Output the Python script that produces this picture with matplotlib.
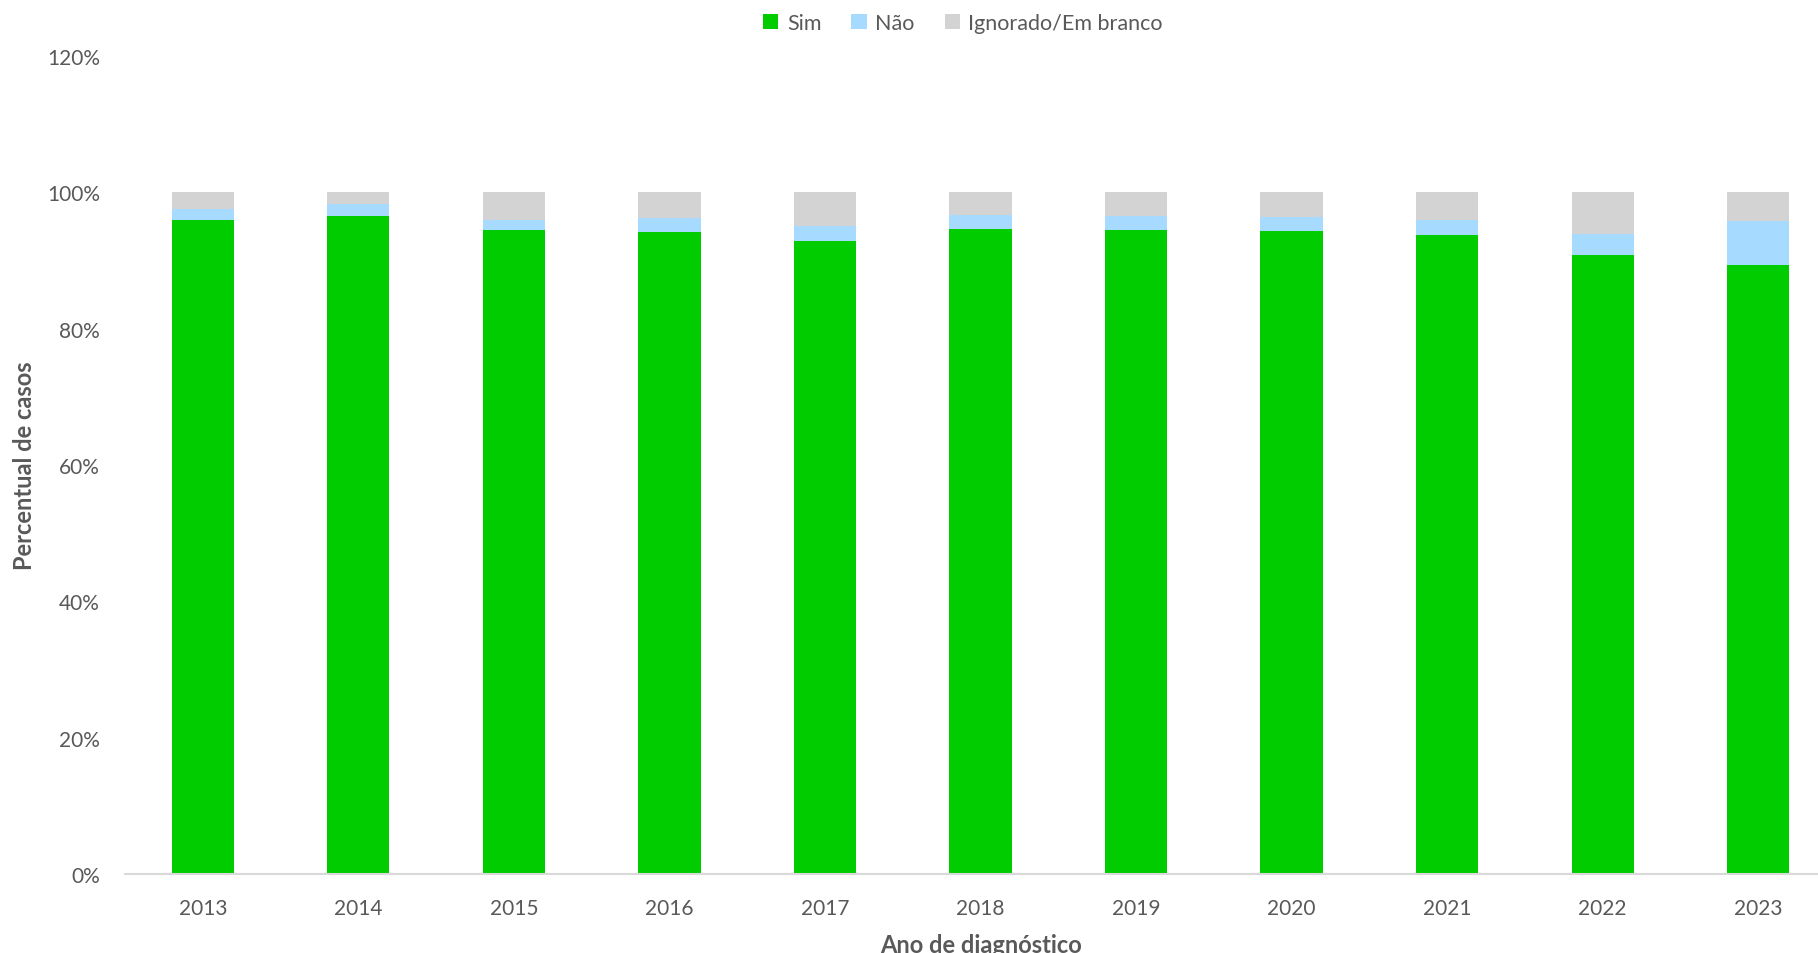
import matplotlib
matplotlib.use("Agg")
import matplotlib.pyplot as plt
from matplotlib.ticker import FuncFormatter

years = ["2013", "2014", "2015", "2016", "2017", "2018", "2019", "2020", "2021", "2022", "2023"]
sim = [95.9, 96.6, 94.5, 94.25, 92.8, 94.65, 94.5, 94.4, 93.7, 90.8, 89.4]
nao = [1.7, 1.7, 1.4, 2.05, 2.2, 2.0, 2.0, 1.95, 2.2, 3.1, 6.35]
ign = [2.4, 1.7, 4.1, 3.7, 5.0, 3.35, 3.5, 3.65, 4.1, 6.1, 4.25]
series_names = ["Sim", "Não", "Ignorado/Em branco"]
colors = ["#00CC00", "#A6DBFF", "#D3D3D3"]

plt.rcParams['font.family'] = ['Lato', 'DejaVu Sans']

fig = plt.figure(figsize=(18.18, 9.54), dpi=100)
W, H = 1818, 954
ax = fig.add_axes([125 / W, (H - 875) / H, (1836 - 125) / W, (875 - 57) / H])

x = list(range(len(years)))
bw = 0.40
b1 = ax.bar(x, sim, width=bw, color=colors[0], label=series_names[0])
bottom2 = sim
b2 = ax.bar(x, nao, width=bw, bottom=bottom2, color=colors[1], label=series_names[1])
bottom3 = [a + b for a, b in zip(sim, nao)]
b3 = ax.bar(x, ign, width=bw, bottom=bottom3, color=colors[2], label=series_names[2])

ax.set_xlim(-0.5, 10.5)
ax.set_ylim(0, 120)
ax.set_yticks([0, 20, 40, 60, 80, 100, 120])
ax.yaxis.set_major_formatter(FuncFormatter(lambda v, p: f"{int(v)}%"))
ax.set_xticks(x)
ax.set_xticklabels(years)

for s in ["top", "right", "left"]:
    ax.spines[s].set_visible(False)
ax.spines["bottom"].set_color("#D9D9D9")
ax.spines["bottom"].set_linewidth(1.5)
ax.tick_params(axis="both", length=0, labelsize=15, colors="#595959")
ax.tick_params(axis="x", pad=17)
ax.tick_params(axis="y", pad=18)

ax.set_xlabel("Ano de diagnóstico", fontsize=17, fontweight="bold", color="#595959", labelpad=11)
fig.text(25 / W, 1 - 466 / H, "Percentual de casos", rotation=90, fontsize=17,
         fontweight="bold", color="#595959", ha="center", va="center")

fig.legend(handles=[b1, b2, b3], labels=series_names, loc="center",
           bbox_to_anchor=(963 / W, 1 - 24 / H), ncol=3, frameon=False,
           fontsize=15.5, labelcolor="#595959", handlelength=0.7, handleheight=0.7,
           handletextpad=0.4, columnspacing=1.4)

fig.savefig("out.png", dpi=100)
